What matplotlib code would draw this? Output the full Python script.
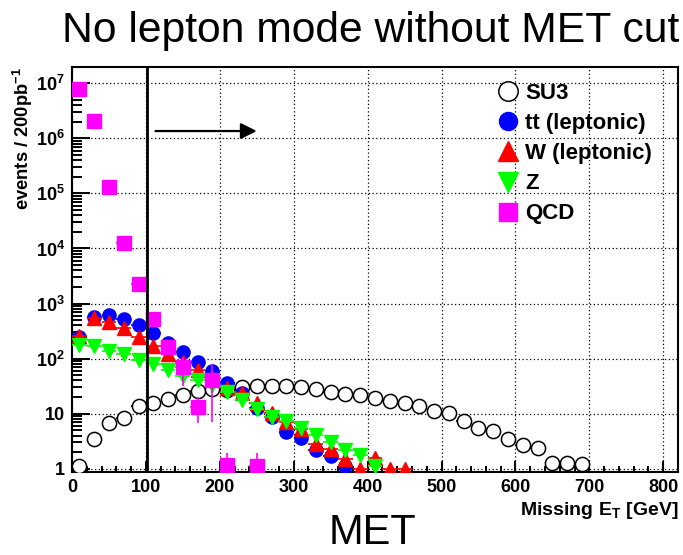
import matplotlib
matplotlib.use('Agg')
import matplotlib.pyplot as plt
from matplotlib.lines import Line2D
from matplotlib.ticker import FixedLocator, FixedFormatter, LogLocator, NullFormatter, MultipleLocator
import numpy as np

plt.rcParams['font.family'] = ['Liberation Sans', 'DejaVu Sans']
plt.rcParams['mathtext.fontset'] = 'custom'
plt.rcParams['mathtext.rm'] = 'Liberation Sans'
plt.rcParams['mathtext.bf'] = 'Liberation Sans:bold'

# bin centres (20 GeV bins) and contents
su3_x = np.arange(10, 700, 20)
su3_y = [1.1, 3.4, 6.7, 8.3, 13.6, 15.6, 18.8, 21.8, 25.4, 28.5, 27, 30, 31.3, 31.3,
         31.3, 30, 27.5, 24.5, 22.7, 21.5, 19.5, 17, 15.4, 13.6, 11.4, 10.3, 7.4, 5.6,
         4.8, 3.4, 2.75, 2.4, 1.28, 1.25, 1.2]

tt_x = np.arange(10, 380, 20)
tt_y = [243, 575, 610, 520, 400, 288, 193, 133, 88, 59, 36, 24, 12.5, 8.8, 4.7, 3.6,
        2.2, 1.7, 1.1]

w_x = np.arange(10, 460, 20)
w_y = [257, 545, 466, 355, 247, 167, 121, 85, 61, 44, 29, 24, 15.4, 10.4, 7, 5.2, 2.8,
       2.3, 1.48, 1.0, 1.55, 1.0, 1.0]

z_x = np.arange(10, 420, 20)
z_y = [173, 168, 138, 120, 95, 81, 63, 49, 41, 33, 25, 17.7, 12, 8.8, 7.3, 5.5, 4.1,
       3.0, 2.2, 1.77, 1.12]

qcd_x = [10, 30, 50, 70, 90, 110, 130, 150, 170, 190, 210, 250]
qcd_y = [7.8e6, 2.1e6, 1.32e5, 1.27e4, 2.3e3, 520, 164, 70, 13.4, 41, 1.15, 1.1]
qcd_err = [3e5, 1e5, 5e3, 1e3, 200, 60, 25, 38, 6.5, 34, 0.8, 0.8]

cut = 101
arrow_from, arrow_to, arrow_y = 113, 250, 1.36e6

ytick_vals = [1, 10, 1e2, 1e3, 1e4, 1e5, 1e6, 1e7]
ytick_labels = ['1', '10', r'$\mathbf{10^{2}}$', r'$\mathbf{10^{3}}$', r'$\mathbf{10^{4}}$',
                r'$\mathbf{10^{5}}$', r'$\mathbf{10^{6}}$', r'$\mathbf{10^{7}}$']

fig = plt.figure(figsize=(6.83, 5.55), dpi=100)
ax = fig.add_axes([0.1054, 0.1495, 0.8873, 0.7298])
ax.set_yscale('log')
ax.set_xlim(0, 820)
ax.set_ylim(0.87, 1.98e7)

ax.xaxis.set_major_locator(MultipleLocator(100))
ax.xaxis.set_minor_locator(MultipleLocator(20))
ax.yaxis.set_major_locator(FixedLocator(ytick_vals))
ax.yaxis.set_major_formatter(FixedFormatter(ytick_labels))
ax.yaxis.set_minor_locator(LogLocator(base=10, subs=np.arange(2, 10)))
ax.yaxis.set_minor_formatter(NullFormatter())

ax.grid(True, which='major', color='black', linestyle=(0, (1, 2)), linewidth=0.9)
ax.set_axisbelow(True)

ax.tick_params(which='both', direction='in', top=False, right=False, width=1.4)
ax.tick_params(axis='y', which='major', length=13, pad=5, labelsize=13)
ax.tick_params(axis='y', which='minor', length=7)
ax.tick_params(axis='x', which='major', length=8, pad=5, labelsize=13)
ax.tick_params(axis='x', which='minor', length=4)
for lab in ax.get_xticklabels() + ax.get_yticklabels():
    lab.set_fontweight('bold')
for s in ax.spines.values():
    s.set_linewidth(1.5)

ms = 9.5
ax.errorbar(su3_x, su3_y, xerr=10, fmt='o', ms=10.2, mfc='white', mec='black', mew=1.1,
            ecolor='black', elinewidth=1.2, capsize=0, zorder=3)
ax.errorbar(tt_x, tt_y, xerr=10, fmt='o', ms=ms, color='blue', elinewidth=1.2,
            capsize=0, zorder=4)
ax.errorbar(w_x, w_y, xerr=10, fmt='^', ms=ms + 0.5, color='red', elinewidth=1.2,
            capsize=0, zorder=5)
ax.errorbar(z_x, z_y, xerr=10, fmt='v', ms=ms + 0.5, color='#00ff00', elinewidth=1.2,
            capsize=0, zorder=6)
ax.errorbar(qcd_x, qcd_y, xerr=10, yerr=qcd_err, fmt='s', ms=ms, color='#ff00ff',
            elinewidth=1.2, capsize=0, zorder=7)

ax.axvline(cut, color='black', linewidth=2, zorder=8)
ax.annotate('', xy=(arrow_to, arrow_y), xytext=(arrow_from, arrow_y),
            arrowprops=dict(arrowstyle='-|>', color='black', lw=1.6, mutation_scale=24,
                            shrinkA=0, shrinkB=0),
            zorder=8)

lms = 14
handles = [
    Line2D([], [], ls='none', marker='o', ms=lms, mfc='white', mec='black', mew=1.1),
    Line2D([], [], ls='none', marker='o', ms=lms - 1, color='blue'),
    Line2D([], [], ls='none', marker='^', ms=lms, color='red'),
    Line2D([], [], ls='none', marker='v', ms=lms, color='#00ff00'),
    Line2D([], [], ls='none', marker='s', ms=lms - 1, color='#ff00ff'),
]
labels = ['SU3', 'tt (leptonic)', 'W (leptonic)', 'Z', 'QCD']
ax.legend(handles, labels, loc='upper left', bbox_to_anchor=(0.679, 0.999), frameon=False,
          prop={'weight': 'bold', 'size': 16}, handlelength=0.8, handletextpad=0.37,
          labelspacing=0.41, borderpad=0.2)

ax.set_ylabel(r'events / 200pb$^{\mathbf{-1}}$', fontsize=13.2, fontweight='bold', loc='top')
ax.yaxis.set_label_coords(-0.061, 1.0)
ax.set_xlabel(r'Missing E$_{\mathbf{T}}$ [GeV]', fontsize=14, fontweight='bold', loc='right')
ax.xaxis.set_label_coords(1.0, -0.068)

fig.text(0.543, 0.945, 'No lepton mode without MET cut', fontsize=30.7, ha='center', va='center')
fig.text(0.545, 0.04, 'MET', fontsize=30, ha='center', va='center')

fig.savefig('out.png', dpi=100)
